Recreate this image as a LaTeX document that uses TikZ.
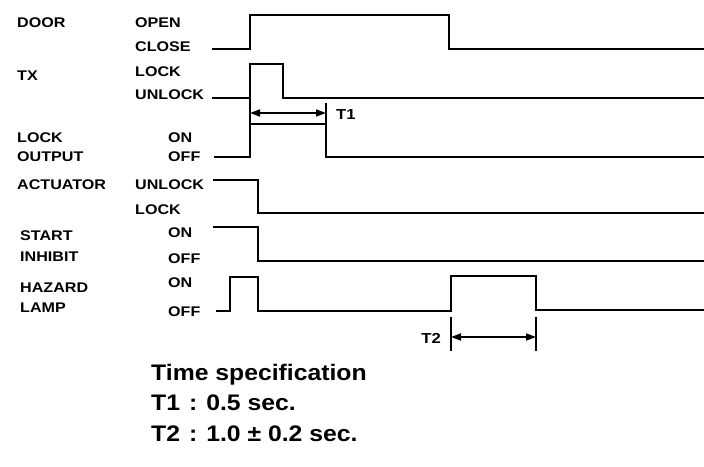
\documentclass[tikz,border=0pt]{standalone}
\usepackage{fontspec}
\setmainfont{Liberation Sans}
\newfontfamily\widefont[FakeStretch=1.15]{Liberation Sans}
\newfontfamily\specfont[FakeStretch=1.1]{Liberation Sans}
\usetikzlibrary{arrows.meta}
\tikzset{
  signame/.style={anchor=west, inner sep=0pt, font=\widefont\bfseries\fontsize{14}{16}\selectfont},
  wave/.style={line width=1.8pt, line join=miter},
  dimline/.style={line width=1.3pt},
  dimarrow/.style={line width=1.8pt, {Triangle[length=10pt,width=7pt]}-{Triangle[length=10pt,width=7pt]}},
  spec/.style={anchor=base west, inner sep=0pt, font=\specfont\bfseries\fontsize{22.5}{28}\selectfont}
}
\begin{document}
\begin{tikzpicture}[x=1pt,y=-1pt]
  \useasboundingbox (0,0) rectangle (704,466);
  % signal names
  \foreach \y/\lab/\nm in {23/DOOR/door, 76/TX/tx, 138/LOCK/lockA, 157/OUTPUT/lockB, 185/ACTUATOR/act}
    \node[signame] (\nm) at (17,\y) {\lab};
  \foreach \y/\lab/\nm in {236/START/startA, 257/INHIBIT/startB, 288/HAZARD/hazA, 308/LAMP/hazB}
    \node[signame] (\nm) at (20,\y) {\lab};
  % states
  \foreach \y/\lab/\nm in {23/OPEN/open, 47/CLOSE/close, 72/LOCK/txlock, 95/UNLOCK/txunlock, 185/UNLOCK/actunlock, 210/LOCK/actlock}
    \node[signame] (\nm) at (135,\y) {\lab};
  \foreach \y/\lab/\nm in {138/ON/lon, 157/OFF/loff, 233/ON/son, 259/OFF/soff, 283/ON/hon, 312/OFF/hoff}
    \node[signame] (\nm) at (168,\y) {\lab};
  % waveforms
  \draw[wave] (212,49) -- (250,49) -- (250,15) -- (449,15) -- (449,49) -- (704,49);
  \draw[wave] (212,98) -- (250,98) -- (250,64) -- (283,64) -- (283,98) -- (704,98);
  \draw[wave] (214,157) -- (250,157) -- (250,124) -- (326,124) -- (326,157) -- (704,157);
  \draw[wave] (213,180) -- (258,180) -- (258,213) -- (704,213);
  \draw[wave] (213,227) -- (258,227) -- (258,261) -- (704,261);
  \draw[wave] (216,311) -- (230,311) -- (230,277) -- (258,277) -- (258,311)
    -- (451,311) -- (451,276) -- (536,276) -- (536,310) -- (704,310);
  % T1
  \coordinate (t1a) at (250,113);
  \coordinate (t1b) at (326,113);
  \draw[dimline] (250,98) -- (250,124);
  \draw[dimline] (326,103) -- (326,124);
  \draw[dimarrow] (t1a) -- (t1b);
  \node[signame, font=\widefont\bfseries\fontsize{14.5}{16}\selectfont] (t1) at (336,115) {T1};
  % T2
  \coordinate (t2a) at (451,337);
  \coordinate (t2b) at (536,337);
  \draw[dimline] (451,317) -- (451,351);
  \draw[dimline] (536,317) -- (536,351);
  \draw[dimarrow] (t2a) -- (t2b);
  \node[signame, anchor=east, font=\widefont\bfseries\fontsize{14.5}{16}\selectfont] (t2) at (441,338) {T2};
  % time specification
  \node[spec] (spec) at (151,380) {Time specification};
  \node[spec] (spec1) at (151,410) {T1\hspace{0.4em}:\hspace{0.4em}0.5 sec.};
  \node[spec] (spec2) at (151,441) {T2\hspace{0.4em}:\hspace{0.4em}1.0 ± 0.2 sec.};
\end{tikzpicture}
\end{document}
